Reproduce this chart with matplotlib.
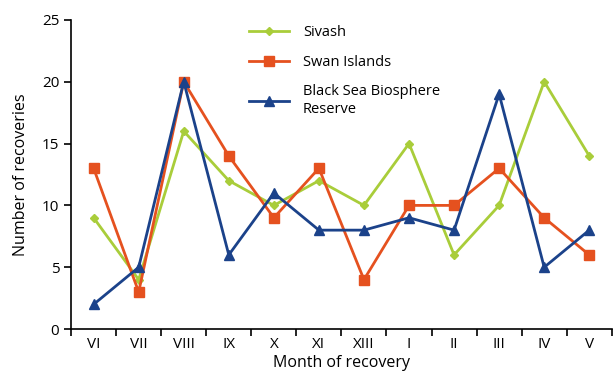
import matplotlib
matplotlib.use("Agg")
import matplotlib.pyplot as plt
import numpy as np

months = ["VI", "VII", "VIII", "IX", "X", "XI", "XIII", "I", "II", "III", "IV", "V"]
sivash = [9, 4, 16, 12, 10, 12, 10, 15, 6, 10, 20, 14]
swan = [13, 3, 20, 14, 9, 13, 4, 10, 10, 13, 9, 6]
blacksea = [2, 5, 20, 6, 11, 8, 8, 9, 8, 19, 5, 8]
yticks = [0, 5, 10, 15, 20, 25]

plt.rcParams['font.family'] = ['Open Sans', 'DejaVu Sans']

fig = plt.figure(figsize=(6.13, 3.74), dpi=100)
ax = fig.add_axes([0.116, 0.12, 0.882, 0.827])

x = np.arange(len(months))
ax.plot(x, sivash, color="#a9cd3a", lw=2, marker="D", ms=4.5, label="Sivash")
ax.plot(x, swan, color="#e5511f", lw=2, marker="s", ms=7, label="Swan Islands")
ax.plot(x, blacksea, color="#1b428a", lw=2, marker="^", ms=7, label="Black Sea Biosphere\nReserve")

ax.set_xlim(-0.5, len(months) - 0.5)
ax.set_ylim(0, 25)
ax.set_xticks(x)
ax.set_xticklabels(months, fontsize=11)
ax.set_xticks(np.arange(-0.5, len(months)), minor=True)
ax.tick_params(axis="x", which="major", length=0, pad=6)
ax.tick_params(axis="x", which="minor", length=5, width=1.2, direction="out")
ax.set_yticks(yticks)
ax.tick_params(axis="y", length=5, width=1.2, direction="out", labelsize=11)
for s in ["top", "right"]:
    ax.spines[s].set_visible(False)
for s in ["left", "bottom"]:
    ax.spines[s].set_linewidth(1.2)

ax.set_xlabel("Month of recovery", fontsize=11.5, labelpad=2)
ax.set_ylabel("Number of recoveries", fontsize=11.5, labelpad=9)

leg = ax.legend(loc="upper left", bbox_to_anchor=(0.305, 1.025), frameon=False,
                fontsize=10.5, handlelength=2.7, labelspacing=1.0, handletextpad=1.0)

fig.savefig("out.png", dpi=100)
